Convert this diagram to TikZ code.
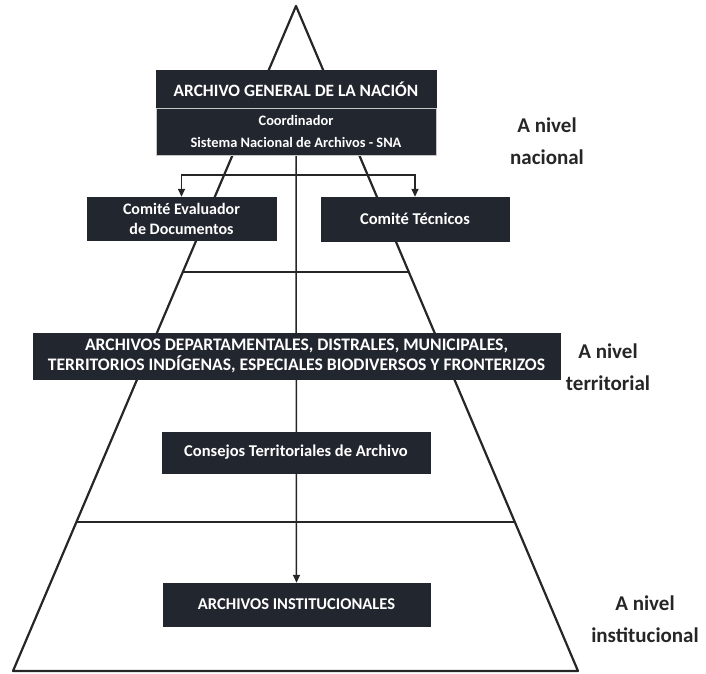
\documentclass[tikz,border=0pt]{standalone}
\usepackage{fontspec}
\setmainfont{Carlito}
\usetikzlibrary{positioning, arrows.meta, backgrounds, calc}
\definecolor{navy}{HTML}{22262F}
\definecolor{ink}{HTML}{262626}

\begin{document}
\begin{tikzpicture}[
    x=1pt, y=-1pt,
    box/.style={fill=navy, draw=navy, text=white, font=\bfseries, inner sep=0pt, align=center},
    lvl/.style={text=ink, font=\fontsize{21}{32}\selectfont\bfseries, align=center},
    pyr/.style={draw=ink, line width=2.2pt, line join=round},
    arr/.style={draw=ink, line width=1.5pt, -{Triangle[width=7pt,length=8pt]}},
    brk/.style={draw=ink, line width=1.4pt, {Triangle[width=7pt,length=8pt]}-{Triangle[width=7pt,length=8pt]}},
  ]
  \useasboundingbox (0,0) rectangle (706,673);
  \coordinate (apex) at (296,6);
  \coordinate (bl) at (13,671);
  \coordinate (br) at (578,671);
  \coordinate (bar) at (296,175);

  \node[box, minimum width=280pt, minimum height=38pt, font=\fontsize{17.3}{20}\selectfont\bfseries] (agn) at (296,89) {ARCHIVO GENERAL DE LA NACIÓN};
  \node[box, draw=gray!45, minimum width=280pt, minimum height=47pt, font=\fontsize{14.4}{22}\selectfont\bfseries] (coord) at (296,131.5) {Coordinador\\Sistema Nacional de Archivos - SNA};
  \node[box, minimum width=189pt, minimum height=43pt, font=\fontsize{16}{20}\selectfont\bfseries] (ceval) at (181.5,218.5) {Comité Evaluador\\de Documentos};
  \node[box, minimum width=188pt, minimum height=44pt, font=\fontsize{16.5}{20}\selectfont\bfseries] (ctec) at (415,219) {Comité Técnicos};
  \node[box, minimum width=527pt, minimum height=46pt, font=\fontsize{17.6}{20}\selectfont\bfseries] (terr) at (296.5,356) {ARCHIVOS DEPARTAMENTALES, DISTRALES, MUNICIPALES,\\TERRITORIOS INDÍGENAS, ESPECIALES BIODIVERSOS Y FRONTERIZOS};
  \node[box, minimum width=268pt, minimum height=41pt, font=\fontsize{16.5}{20}\selectfont\bfseries] (consejo) at (296,452.5) {Consejos Territoriales de Archivo};
  \node[box, minimum width=267pt, minimum height=43pt, font=\fontsize{16.5}{20}\selectfont\bfseries] (inst) at (296.5,604.5) {ARCHIVOS INSTITUCIONALES};

  \node[lvl] (lnac) at (547,141) {A nivel\\nacional};
  \node[lvl] (lterr) at (608,367) {A nivel\\territorial};
  \node[lvl] (linst) at (645,619) {A nivel\\institucional};

  \begin{scope}[on background layer]
    \draw[pyr] (bl) -- (apex) -- (br) -- cycle;
    \draw[pyr] ($(apex)!0.4!(bl)$) -- ($(apex)!0.4!(br)$);
    \draw[pyr] ($(apex)!0.776!(bl)$) -- ($(apex)!0.776!(br)$);
    \draw[arr] (coord.south) -- (inst.north);
  \end{scope}
  \draw[brk] (ceval.north) |- (bar) -| (ctec.north);
\end{tikzpicture}
\end{document}
